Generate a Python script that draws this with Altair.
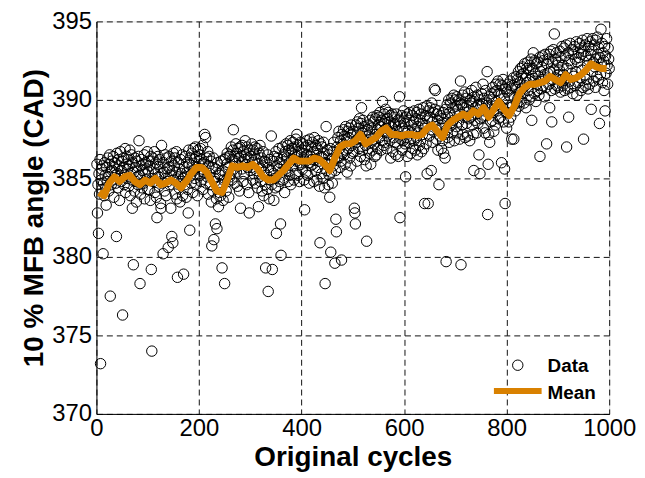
import altair as alt
import pandas as pd

# ---- data (cycle index 1..1000) ----
block0 = [385.9, 382.8, 384.6, 381.5, 385.3, 384.0, 386.2, 373.2, 384.9, 385.6,
          384.3, 385.8, 380.2, 384.7, 383.9, 386.0, 385.2, 384.4, 383.3, 385.7,
          384.8, 386.3, 385.1, 384.2, 385.9, 386.5, 377.5, 385.4, 384.6, 386.1,
          385.5, 384.9, 386.4, 383.8, 385.7, 386.0, 385.2, 384.7, 381.3, 386.6,
          385.3, 384.4, 386.2, 385.8, 383.6, 385.0, 386.7, 384.8, 385.5, 386.1,
          376.3, 385.7, 386.3, 384.6, 385.2, 386.9, 384.1, 385.9, 386.4, 385.0,
          385.6, 386.2, 384.5, 385.8, 386.8, 383.9, 385.3, 386.5, 384.9, 383.1,
          386.0, 379.5, 385.4, 384.2, 386.3, 385.7, 384.8, 383.5, 386.1, 385.1,
          384.6, 386.4, 387.4, 385.2, 378.3, 384.0, 385.8, 386.2, 384.4, 385.5,
          385.9, 384.7, 386.5, 383.7, 385.3, 386.0, 384.9, 385.6, 386.7, 384.3]
block1 = [385.4, 386.1, 384.3, 385.8, 383.6, 386.4, 379.2, 374.0, 385.0, 386.3,
          384.8, 385.6, 386.7, 384.1, 385.3, 386.0, 383.8, 382.5, 385.9, 386.4,
          385.1, 384.5, 386.2, 385.7, 383.4, 383.1, 387.1, 385.3, 384.7, 380.2,
          386.0, 385.4, 384.2, 386.5, 385.0, 383.9, 386.3, 385.6, 384.8, 380.6,
          385.7, 386.4, 384.6, 385.2, 383.1, 386.1, 381.3, 385.5, 380.9, 386.6,
          384.9, 385.8, 386.3, 384.0, 385.4, 386.7, 383.7, 378.7, 385.1, 386.0,
          384.4, 385.6, 383.5, 386.2, 384.8, 385.3, 386.5, 383.9, 385.0, 378.9,
          385.7, 384.6, 386.4, 385.1, 383.8, 386.0, 385.4, 384.3, 382.8, 386.8,
          385.9, 381.7, 386.3, 385.2, 384.7, 386.6, 385.8, 384.1, 386.9, 385.5,
          386.2, 385.0, 387.0, 384.6, 386.4, 385.7, 383.9, 386.8, 385.3, 386.1]
block2 = [386.5, 385.2, 386.9, 384.8, 386.2, 385.6, 387.1, 384.3, 386.0, 385.4,
          387.8, 385.9, 387.6, 384.7, 386.3, 385.1, 386.7, 384.0, 385.8, 386.4,
          385.3, 384.6, 386.1, 383.5, 380.7, 385.7, 384.2, 386.3, 381.1, 385.0,
          384.8, 382.1, 385.6, 383.7, 381.8, 386.0, 384.5, 383.2, 385.3, 384.1,
          385.2, 383.9, 386.1, 384.6, 379.3, 385.5, 383.6, 384.9, 386.2, 378.3,
          385.4, 386.3, 384.2, 385.9, 386.6, 384.8, 385.7, 383.8, 386.4, 385.1,
          386.5, 385.3, 387.0, 384.9, 386.2, 386.8, 388.1, 385.6, 386.4, 384.7,
          386.1, 387.2, 385.4, 386.6, 384.5, 386.9, 385.8, 386.3, 384.2, 387.0,
          383.1, 386.4, 385.6, 387.1, 386.0, 384.8, 386.7, 385.3, 386.2, 387.4,
          385.9, 386.5, 384.6, 387.0, 385.7, 386.3, 384.1, 382.8, 386.8, 385.5]
block3 = [386.4, 385.7, 387.2, 386.0, 384.9, 386.8, 385.3, 386.5, 387.0, 384.7,
          386.2, 385.5, 386.9, 384.4, 385.9, 383.2, 386.6, 385.1, 387.1, 384.8,
          385.6, 386.3, 384.2, 385.8, 386.7, 383.9, 385.4, 386.1, 384.6, 379.3,
          386.0, 385.2, 384.3, 386.5, 377.8, 385.7, 383.7, 386.2, 384.9, 385.5,
          387.7, 384.6, 379.2, 386.1, 385.3, 383.6, 386.4, 385.0, 384.4, 386.7,
          381.5, 385.8, 386.3, 384.5, 385.6, 386.9, 384.8, 386.0, 382.1, 380.1,
          386.2, 385.4, 387.0, 384.9, 386.5, 385.8, 384.1, 386.7, 385.6, 387.2,
          386.3, 385.5, 387.1, 384.8, 386.8, 386.0, 385.2, 387.4, 384.6, 386.6,
          386.9, 385.8, 387.3, 386.2, 384.9, 387.0, 386.5, 385.3, 387.5, 386.1,
          387.8, 386.4, 385.2, 387.1, 386.7, 384.8, 386.0, 387.3, 385.9, 386.6]
block4 = [386.8, 385.6, 387.2, 386.3, 384.9, 383.0, 387.0, 386.1, 385.4, 387.4,
          386.5, 385.2, 387.1, 386.0, 384.7, 387.5, 386.4, 385.8, 387.0, 386.2,
          387.3, 385.9, 386.7, 384.8, 387.6, 386.2, 385.5, 387.1, 386.6, 384.9,
          386.9, 385.7, 387.4, 386.1, 384.5, 380.9, 387.2, 386.4, 385.3, 387.0,
          386.3, 385.0, 387.3, 386.6, 384.4, 378.3, 386.0, 388.3, 385.5, 386.8,
          385.9, 384.6, 386.5, 385.2, 383.8, 386.9, 380.3, 385.4, 386.2, 384.7,
          386.7, 385.8, 387.3, 386.2, 379.6, 385.5, 382.4, 381.6, 387.0, 386.4,
          387.6, 386.3, 388.0, 386.9, 385.7, 387.4, 386.1, 379.8, 387.8, 386.6,
          387.2, 388.1, 386.5, 387.7, 385.9, 388.3, 386.8, 387.5, 385.4, 388.0,
          386.9, 387.6, 388.2, 386.3, 387.9, 385.8, 388.4, 387.1, 386.6, 387.8]
block5 = [388.0, 386.7, 383.1, 382.8, 382.1, 388.4, 387.3, 386.1, 388.6, 387.5,
          388.2, 386.9, 388.8, 387.6, 386.4, 388.5, 389.5, 387.9, 386.8, 388.7,
          387.4, 388.3, 386.2, 388.0, 387.1, 385.8, 381.0, 388.1, 386.9, 387.7,
          388.4, 386.6, 387.9, 388.7, 385.9, 387.3, 388.2, 386.8, 388.9, 387.5,
          388.6, 387.2, 386.4, 388.8, 387.8, 386.5, 389.0, 388.1, 386.9, 388.4,
          388.9, 387.6, 389.2, 388.3, 386.8, 388.7, 387.4, 389.9, 388.0, 387.1,
          389.1, 388.5, 387.3, 389.4, 388.2, 386.9, 388.8, 387.7, 389.2, 388.4,
          388.6, 387.4, 389.0, 386.3, 388.3, 387.9, 389.1, 386.7, 388.5, 387.6,
          388.9, 387.3, 388.4, 386.5, 389.1, 388.0, 387.2, 388.7, 386.4, 388.3,
          390.2, 382.5, 388.6, 387.5, 389.0, 386.8, 388.2, 387.4, 389.3, 388.0]
block6 = [388.5, 387.2, 385.1, 388.9, 387.6, 386.4, 389.1, 388.0, 387.3, 388.7,
          389.2, 387.5, 386.6, 388.4, 387.9, 389.0, 386.9, 388.6, 387.4, 389.3,
          388.1, 386.8, 388.8, 387.6, 389.2, 386.5, 388.3, 387.9, 389.4, 387.1,
          388.7, 387.4, 389.1, 386.7, 388.5, 387.8, 389.5, 386.9, 388.2, 383.4,
          389.0, 388.4, 387.2, 389.6, 385.3, 388.8, 383.4, 389.3, 387.7, 388.9,
          389.5, 388.1, 385.5, 389.8, 388.6, 387.3, 389.2, 388.0, 390.7, 389.4,
          390.6, 388.3, 387.5, 389.1, 388.7, 386.8, 389.3, 384.6, 388.4, 387.7,
          389.0, 388.2, 386.9, 388.8, 387.4, 389.2, 386.6, 388.5, 387.8, 386.3,
          389.4, 379.7, 388.1, 389.7, 387.6, 388.9, 390.0, 387.3, 389.2, 388.5,
          389.8, 388.4, 390.1, 387.9, 389.5, 388.7, 390.3, 387.4, 389.1, 390.0]
block7 = [389.6, 388.3, 390.2, 387.9, 389.4, 388.6, 390.0, 387.5, 389.8, 391.2,
          379.5, 389.7, 388.4, 390.3, 387.8, 389.5, 388.9, 390.5, 387.6, 389.2,
          390.1, 388.5, 389.6, 387.7, 390.4, 388.8, 389.3, 387.4, 390.0, 388.9,
          389.8, 390.6, 388.4, 389.9, 387.8, 385.5, 390.2, 388.7, 389.5, 390.8,
          389.1, 387.9, 390.3, 388.5, 389.7, 386.5, 390.0, 385.3, 388.8, 389.6,
          390.4, 388.9, 389.7, 391.0, 388.2, 390.1, 389.3, 387.9, 390.6, 389.0,
          389.8, 391.8, 382.7, 385.9, 387.8, 390.2, 387.3, 389.5, 388.6, 390.4,
          390.0, 388.7, 390.8, 389.2, 388.0, 390.5, 389.6, 388.4, 391.0, 389.9,
          390.6, 389.3, 391.2, 388.8, 390.4, 389.7, 391.0, 388.9, 390.3, 386.0,
          390.9, 389.5, 391.3, 388.6, 390.1, 385.6, 383.4, 390.7, 389.2, 388.2]
block8 = [390.5, 389.2, 391.0, 388.6, 390.3, 389.5, 391.2, 388.9, 390.7, 387.5,
          390.9, 389.6, 391.4, 387.5, 390.2, 391.0, 389.3, 390.8, 391.5, 389.8,
          391.3, 390.1, 391.8, 389.6, 391.1, 390.5, 392.0, 389.9, 391.6, 390.7,
          392.1, 390.4, 391.7, 389.8, 392.3, 390.9, 391.4, 389.5, 392.0, 391.1,
          392.4, 390.6, 391.9, 390.0, 392.2, 391.3, 390.2, 392.6, 388.7, 391.5,
          392.0, 393.0, 391.2, 390.4, 392.5, 391.7, 389.9, 392.3, 391.0, 390.6,
          392.4, 391.5, 390.3, 392.7, 386.4, 391.8, 390.7, 392.1, 391.3, 392.8,
          390.9, 392.5, 391.6, 390.2, 392.9, 391.4, 390.8, 387.2, 392.3, 391.7,
          392.6, 391.0, 392.9, 389.5, 391.8, 393.1, 390.6, 388.6, 392.4, 391.3,
          393.2, 391.9, 394.2, 390.7, 392.6, 391.4, 393.0, 390.9, 392.2, 391.6]
block9 = [392.4, 390.8, 391.9, 393.1, 390.5, 392.7, 391.3, 393.4, 390.9, 392.2,
          391.6, 393.3, 390.6, 392.8, 391.4, 393.5, 387.0, 392.0, 390.7, 393.0,
          388.9, 392.5, 391.2, 393.6, 390.8, 392.3, 391.7, 393.2, 390.4, 392.9,
          391.5, 393.4, 390.9, 392.6, 391.8, 393.7, 390.3, 392.4, 391.1, 393.0,
          392.7, 393.6, 391.4, 393.3, 390.6, 392.9, 391.9, 393.8, 390.8, 387.5,
          393.1, 391.6, 393.5, 390.9, 392.8, 391.3, 393.9, 392.2, 390.7, 393.4,
          392.5, 391.0, 393.7, 392.9, 389.4, 393.2, 391.8, 393.9, 392.4, 391.2,
          393.5, 392.1, 390.8, 393.8, 392.6, 391.5, 394.0, 392.9, 391.3, 393.3,
          388.5, 392.7, 391.6, 394.5, 392.3, 393.6, 391.1, 393.0, 392.5, 390.6,
          393.4, 389.3, 392.8, 391.7, 393.9, 392.2, 391.0, 393.3, 392.6, 392.0]

data_values = (block0 + block1 + block2 + block3 + block4 +
               block5 + block6 + block7 + block8 + block9)
data_cycles = list(range(1, len(data_values) + 1))

mean_cycles = list(range(5, 1000, 10))
mean_values = [384.1, 383.9, 384.7, 385.1, 384.8, 385.1, 385.2, 384.8, 384.6, 384.9,
               384.7, 385.0, 384.6, 384.7, 384.9, 384.7, 384.4, 384.8, 385.3, 385.7,
               385.7, 385.4, 384.8, 384.2, 384.1, 384.9, 385.8, 385.7, 385.8, 385.7,
               385.9, 385.6, 385.1, 384.9, 384.9, 385.2, 385.5, 385.9, 386.3, 386.1,
               386.1, 386.1, 386.3, 386.2, 385.9, 385.5, 386.3, 387.0, 387.2, 387.2,
               387.4, 387.8, 387.2, 387.4, 387.6, 388.0, 388.2, 387.8, 387.8, 387.7,
               387.8, 387.8, 387.7, 387.8, 388.2, 388.4, 388.0, 387.6, 388.4, 388.7,
               388.9, 389.1, 388.9, 389.3, 389.1, 389.5, 388.9, 389.4, 389.9, 389.4,
               389.0, 389.6, 390.4, 390.8, 391.0, 391.0, 391.1, 391.2, 391.5, 391.3,
               391.1, 391.6, 391.3, 391.4, 391.6, 391.9, 392.3, 392.1, 392.0, 392.0]

x_ticks = [0, 200, 400, 600, 800, 1000]
y_ticks = [370, 375, 380, 385, 390, 395]
legend_labels = ["Data", "Mean"]

FONT = "Liberation Sans"
ORANGE = "#D98100"

df = pd.DataFrame({"cycle": data_cycles, "angle": data_values})
dm = pd.DataFrame({"cycle": mean_cycles, "angle": mean_values})
one = pd.DataFrame({"k": [0]})

x_scale = alt.Scale(domain=[0, 1000], nice=False)
y_scale = alt.Scale(domain=[370, 395], nice=False, zero=False)

x_axis = alt.Axis(values=x_ticks, title="Original cycles", format="d",
                  labelFont=FONT, labelFontSize=24, labelColor="black",
                  labelFlush=False, labelOverlap=False, labelPadding=3,
                  titleFont=FONT, titleFontSize=28, titleFontWeight="bold",
                  titleColor="black", titlePadding=3,
                  grid=True, gridDash=[6, 4], gridColor="#111", gridWidth=1,
                  ticks=False, domainColor="black", domainWidth=1)
y_axis = alt.Axis(values=y_ticks, title="10 % MFB angle (CAD)", format="d",
                  labelFont=FONT, labelFontSize=24, labelColor="black",
                  labelFlush=False, labelOverlap=False, labelPadding=5,
                  titleFont=FONT, titleFontSize=28, titleFontWeight="bold",
                  titleColor="black", titlePadding=3,
                  grid=True, gridDash=[6, 4], gridColor="#111", gridWidth=1,
                  ticks=False, domainColor="black", domainWidth=1)

points = alt.Chart(df).mark_point(
    shape="circle", filled=False, size=110, color="black",
    strokeWidth=1, opacity=1
).encode(
    x=alt.X("cycle:Q", scale=x_scale, axis=x_axis),
    y=alt.Y("angle:Q", scale=y_scale, axis=y_axis),
)

mean_line = alt.Chart(dm).mark_line(
    color=ORANGE, strokeWidth=7, strokeJoin="round"
).encode(
    x=alt.X("cycle:Q", scale=x_scale),
    y=alt.Y("angle:Q", scale=y_scale),
)

leg_pt = alt.Chart(one).mark_point(
    shape="circle", filled=False, size=110, color="black", strokeWidth=1, opacity=1
).encode(x=alt.value(424), y=alt.value(346))
leg_line = alt.Chart(one).mark_rule(color=ORANGE, strokeWidth=6).encode(
    x=alt.value(400), x2=alt.value(448), y=alt.value(372))
leg_t1 = alt.Chart(one).mark_text(
    align="left", baseline="middle", font=FONT, fontSize=19, fontWeight="bold",
    color="black").encode(x=alt.value(454), y=alt.value(347), text=alt.value(legend_labels[0]))
leg_t2 = alt.Chart(one).mark_text(
    align="left", baseline="middle", font=FONT, fontSize=19, fontWeight="bold",
    color="black").encode(x=alt.value(454), y=alt.value(374), text=alt.value(legend_labels[1]))

chart = alt.layer(points, mean_line, leg_pt, leg_line, leg_t1, leg_t2).properties(
    width=516, height=395,
    autosize=alt.AutoSizeParams(type="none"),
    padding={"left": 89, "top": 12, "right": 28, "bottom": 61},
).configure_view(stroke="black", strokeWidth=1).configure(background="white")

chart.save("out.html", embed_options={"renderer": "svg", "actions": False})
